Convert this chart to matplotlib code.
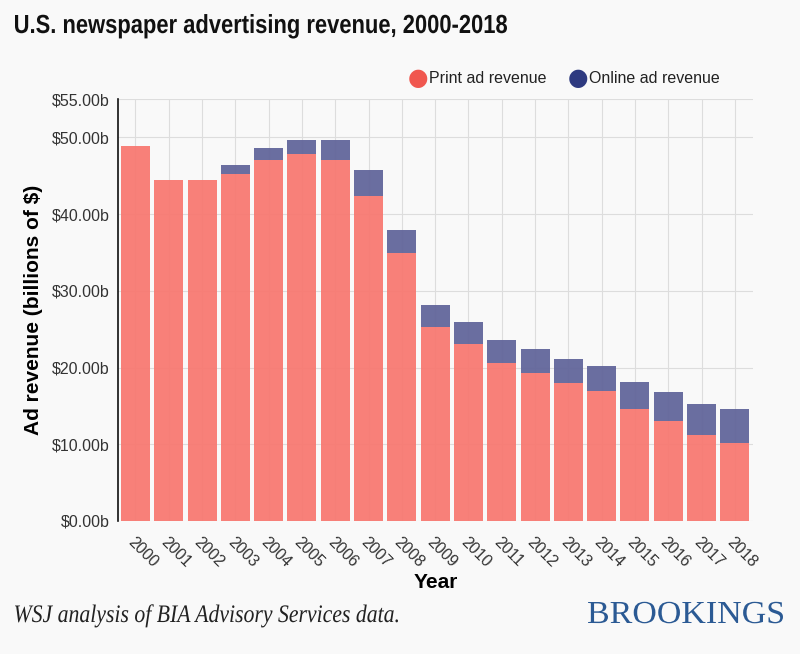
import matplotlib.pyplot as plt
import numpy as np
from matplotlib.textpath import TextPath
from matplotlib.patches import PathPatch
from matplotlib.font_manager import FontProperties
from matplotlib.transforms import Affine2D

plt.rcParams['font.family'] = ['Liberation Sans', 'DejaVu Sans']

years = [str(y) for y in range(2000, 2019)]
print_rev = [48.9, 44.5, 44.4, 45.2, 47.0, 47.8, 47.0, 42.4, 34.9, 25.3,
             23.1, 20.6, 19.3, 18.0, 16.9, 14.6, 13.0, 11.2, 10.1]
online_rev = [0.0, 0.0, 0.0, 1.2, 1.6, 1.9, 2.6, 3.3, 3.0, 2.8,
              2.9, 3.0, 3.1, 3.1, 3.3, 3.5, 3.8, 4.0, 4.5]
y_ticks = [0, 10, 20, 30, 40, 50, 55]

bg = '#f9f9f9'
print_col = '#f8776f'
online_col = '#5f6399'
W, H = 800, 654

fig = plt.figure(figsize=(W / 100, H / 100), dpi=100, facecolor=bg)
ax = fig.add_axes([0.1475, 0.2034, 0.7935, 0.6452], facecolor=bg)

x = np.arange(len(years))
ax.bar(x, print_rev, width=0.87, color=print_col, alpha=0.93, zorder=2)
ax.bar(x, online_rev, width=0.87, bottom=print_rev, color=online_col, alpha=0.93, zorder=2)

ax.set_ylim(0, 55)
ax.set_xlim(-0.525, 18.54)
ax.set_yticks(y_ticks)
ax.set_yticklabels(['$%.2fb' % v for v in y_ticks], fontsize=11.5, color='#333333')
ax.set_xticks(x)
ax.set_xticklabels(years, rotation=-45, ha='left', va='top', rotation_mode='anchor',
                   fontsize=11.5, color='#333333')
ax.tick_params(length=0, pad=6)
ax.tick_params(axis='x', pad=10)

ax.grid(True, color='#dddddd', linewidth=0.8, zorder=0)
ax.set_axisbelow(True)
for s in ['top', 'right', 'bottom']:
    ax.spines[s].set_visible(False)
ax.spines['left'].set_color('#111111')
ax.spines['left'].set_linewidth(1.2)

ax.set_ylabel('Ad revenue (billions of $)', fontsize=15, fontweight='bold', labelpad=6)
ax.set_xlabel('Year', fontsize=15, fontweight='bold', labelpad=2)


# text squeezed into a pixel box (the original uses condensed fonts)
def boxed_text(s, x0, x1, base, cap, fp, color):
    tp = TextPath((0, 0), s, size=100, prop=fp)
    bb = tp.get_extents()
    cap_h = TextPath((0, 0), 'H', size=100, prop=fp).get_extents().height
    tr = (Affine2D().translate(-bb.x0, 0)
          .scale((x1 - x0) / bb.width, cap / cap_h)
          .translate(x0, H - base))
    fig.add_artist(PathPatch(tp, transform=tr, facecolor=color, edgecolor='none'))


boxed_text('U.S. newspaper advertising revenue, 2000-2018', 15, 507, 33, 18,
           FontProperties(family='Liberation Sans', weight='bold'), '#111111')
boxed_text('WSJ analysis of BIA Advisory Services data.', 15, 398, 622, 16.5,
           FontProperties(family='Liberation Serif', style='italic'), '#222222')
boxed_text('BROOKINGS', 588, 783, 623, 21,
           FontProperties(family='Liberation Serif'), '#2b5a94')

# legend
fig.text(0.523, 0.88, '\u25cf', fontsize=17, color='#f0574f', va='center', ha='center',
         family='DejaVu Sans')
fig.text(0.536, 0.88, 'Print ad revenue', fontsize=11.5, color='#222222', va='center')
fig.text(0.723, 0.88, '\u25cf', fontsize=17, color='#2e3a80', va='center', ha='center',
         family='DejaVu Sans')
fig.text(0.736, 0.88, 'Online ad revenue', fontsize=11.5, color='#222222', va='center')

fig.savefig('out.png', dpi=100, facecolor=bg)
